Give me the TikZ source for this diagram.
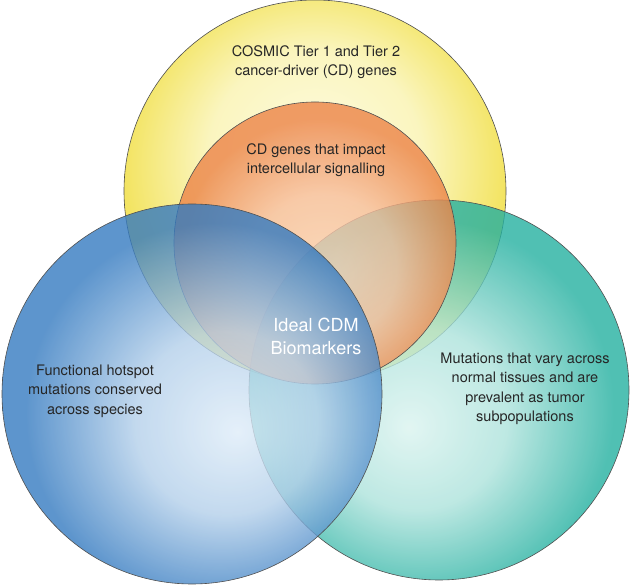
\documentclass[tikz,border=0pt]{standalone}
\usepackage{fontspec}
\setmainfont{TeX Gyre Heros}
\usepackage{xcolor}
\definecolor{cosmicpale}{RGB}{253,251,222}
\definecolor{cosmicedge}{RGB}{243,228,98}
\definecolor{signalpale}{RGB}{251,210,186}
\definecolor{signaledge}{RGB}{236,132,72}
\definecolor{hotspotpale}{RGB}{222,236,248}
\definecolor{hotspotedge}{RGB}{52,122,192}
\definecolor{tissuepale}{RGB}{218,243,239}
\definecolor{tissueedge}{RGB}{36,176,160}
\definecolor{rimgray}{RGB}{80,80,80}
\definecolor{inkgray}{RGB}{38,38,38}
\usepackage{tikz}
\usetikzlibrary{backgrounds}

\pgfdeclareradialshading{cosmicshade}{\pgfpoint{0bp}{6bp}}{color(0bp)=(cosmicpale); color(14bp)=(cosmicpale!75!cosmicedge); color(25bp)=(cosmicedge); color(50bp)=(cosmicedge)}
\pgfdeclareradialshading{signalshade}{\pgfpoint{2bp}{-6bp}}{color(0bp)=(signalpale); color(13bp)=(signalpale!75!signaledge); color(25bp)=(signaledge); color(50bp)=(signaledge)}
\pgfdeclareradialshading{hotspotshade}{\pgfpoint{6bp}{-5bp}}{color(0bp)=(hotspotpale); color(12bp)=(hotspotpale!75!hotspotedge); color(25bp)=(hotspotedge); color(50bp)=(hotspotedge)}
\pgfdeclareradialshading{tissueshade}{\pgfpoint{-4bp}{-5bp}}{color(0bp)=(tissuepale); color(12bp)=(tissuepale!75!tissueedge); color(25bp)=(tissueedge); color(50bp)=(tissueedge)}

\tikzset{
  vset/.style    = {circle, draw=rimgray, line width=0.6pt, inner sep=0pt, outer sep=0pt},
  vtext/.style   = {align=center, text=inkgray, inner sep=0pt, font=\fontsize{14.5}{19.5}\selectfont},
  coretext/.style= {align=center, text=white, inner sep=0pt, font=\fontsize{18}{23}\selectfont},
}

\begin{document}
\begin{tikzpicture}[x=1pt, y=-1pt]
    \useasboundingbox (0,0) rectangle (630,585);

    % ── Sets (drawn back to front) ──────────────────────────────
    \node[vset, shade, shading=cosmicshade, minimum size=382pt] (cosmic) at (315,191) {};
    \node[vset, shade, shading=tissueshade, fill opacity=0.8, minimum size=380pt] (tissue) at (439,390) {};
    \node[vset, shade, shading=signalshade, fill opacity=0.8, minimum size=282pt] (signal) at (315,243) {};
    \node[vset, shade, shading=hotspotshade, fill opacity=0.8, minimum size=380pt] (hotspot) at (192,394) {};

    % ── Set texts ───────────────────────────────────────────────
    \node[vtext] (cosmictxt)  at (316,62)  {COSMIC Tier 1 and Tier 2\\cancer-driver (CD) genes};
    \node[vtext] (signaltxt)  at (316,160) {CD genes that impact\\intercellular signalling};
    \node[vtext] (hotspottxt) at (95,391)  {Functional hotspot\\mutations conserved\\across species};
    \node[vtext] (tissuetxt)  at (525,389) {Mutations that vary across\\normal tissues and are\\prevalent as tumor\\subpopulations};
    \node[coretext] (coretxt) at (316,336) {Ideal CDM\\Biomarkers};
\end{tikzpicture}
\end{document}
